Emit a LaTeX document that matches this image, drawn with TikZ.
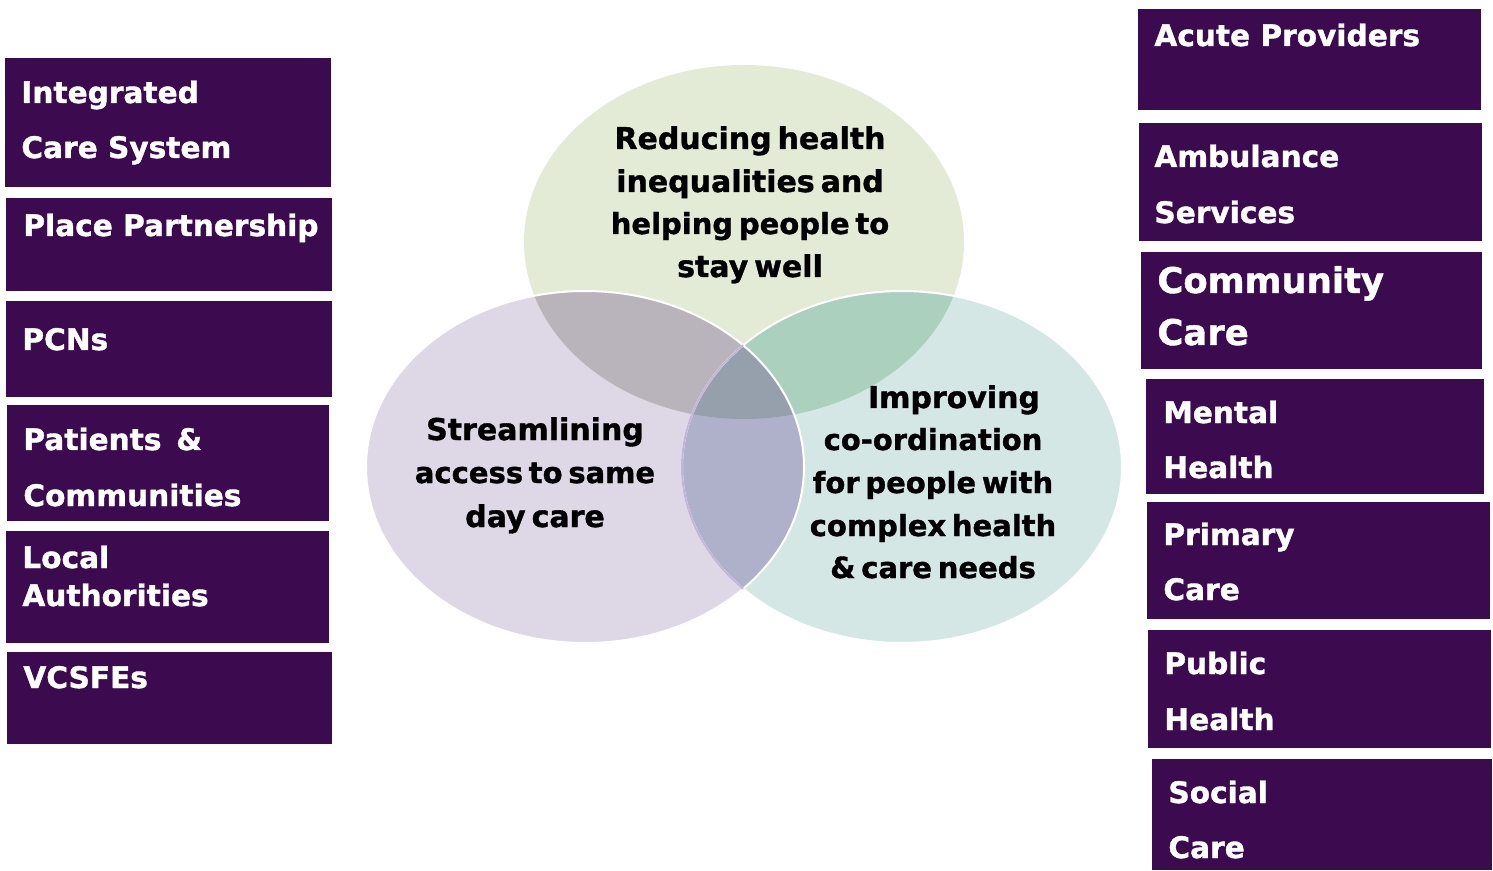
\documentclass[tikz,border=0pt]{standalone}
\usepackage{fontspec}
\setmainfont{DejaVu Sans}
\newfontfamily\heavyfont{DejaVu Sans}[BoldFeatures={FakeBold=1.2}]
\newcommand\mytight{\spaceskip 0.2em\relax}
\newcommand\circfont{\heavyfont\bfseries\fontsize{15}{16}\selectfont\mytight}
\newcommand\circfontn{\heavyfont\bfseries\fontsize{14.5}{16}\selectfont\mytight}
\definecolor{boxpurple}{HTML}{3B0A4F}
\definecolor{topc}{HTML}{E3EAD5}
\definecolor{leftc}{HTML}{DDD7E6}
\definecolor{rightc}{HTML}{D5E7E4}
\definecolor{tlc}{HTML}{B9B4BB}
\definecolor{trc}{HTML}{ACD0BE}
\definecolor{lrc}{HTML}{AFB0C9}
\definecolor{centc}{HTML}{96A0AD}
\definecolor{lavline}{HTML}{C4B6D8}
\tikzset{
  box/.style={fill=boxpurple, draw=none, rectangle, anchor=north west, inner sep=0pt, outer sep=0pt},
  lbl/.style={text=white, anchor=base west, inner sep=0pt, font=\heavyfont\bfseries\fontsize{14.8}{16}\selectfont},
  biglbl/.style={lbl, font=\heavyfont\bfseries\fontsize{17.7}{20}\selectfont},
  ctext/.style={text=black, anchor=base, inner sep=0pt, font=\circfont},
  ctextn/.style={ctext, font=\circfontn},
}
\begin{document}
\begin{tikzpicture}[x=0.5pt,y=-0.5pt]
\useasboundingbox (0,0) rectangle (1493,871);
% Venn circles
\def\ellT{(744,242) ellipse [x radius=110pt, y radius=88.5pt]}
\def\ellL{(585,467) ellipse [x radius=109.5pt, y radius=88pt]}
\def\ellR{(902,467) ellipse [x radius=110pt, y radius=88pt]}
\fill[topc] \ellT;
\fill[leftc] \ellL;
\fill[rightc] \ellR;
\begin{scope}\clip \ellT; \fill[tlc] \ellL; \fill[trc] \ellR; \end{scope}
\begin{scope}\clip \ellL; \fill[lrc] \ellR; \end{scope}
\begin{scope}\clip \ellT; \clip \ellL; \fill[centc] \ellR; \end{scope}
\draw[white, line width=1pt] \ellL;
\draw[white, line width=1pt] \ellR;
\begin{scope}\clip \ellL; \draw[lavline, line width=1pt] \ellR; \end{scope}
% circle texts
\node[ctext] (t1) at (750,149) {Reducing health};
\node[ctext] (t2) at (750,192) {inequalities and};
\node[ctextn] (t3) at (750,234) {helping people to};
\node[ctext] (t4) at (750,277) {stay well};
\node[ctext] (s1) at (535,440) {Streamlining};
\node[ctextn] (s2) at (535,483) {access to same};
\node[ctext] (s3) at (535,527) {day care};
\node[ctext] (r1) at (954,408) {Improving};
\node[ctextn] (r2) at (933,450) {co-ordination};
\node[ctextn] (r3) at (933,493) {for people with};
\node[ctextn] (r4) at (933,536) {complex health};
\node[ctextn] (r5) at (933,578) {\& care needs};
% left boxes
\node[box, minimum width=163pt, minimum height=64.5pt] (ics) at (5,58) {};
\node[box, minimum width=163pt, minimum height=46.5pt] (pp) at (6,198) {};
\node[box, minimum width=163pt, minimum height=48pt] (pcn) at (6,301) {};
\node[box, minimum width=161pt, minimum height=58pt] (pat) at (7,405) {};
\node[box, minimum width=161.5pt, minimum height=56pt] (la) at (6,531) {};
\node[box, minimum width=162.5pt, minimum height=46pt] (vcs) at (7,652) {};
\node[lbl] (ics1) at (21,103) {Integrated};
\node[lbl] (ics2) at (21,158) {Care System};
\node[lbl] (pp1) at (23,236) {Place Partnership};
\node[lbl] (pcn1) at (22,350) {PCNs};
\node[lbl] (pat1) at (23,450) {Patients\hspace{0.5em}\&};
\node[lbl] (pat2) at (23,506) {Communities};
\node[lbl] (la1) at (22,568) {Local};
\node[lbl] (la2) at (22,606) {Authorities};
\node[lbl] (vcs1) at (23,688) {VCSFEs};
% right boxes
\node[box, minimum width=171.5pt, minimum height=50.5pt] (acu) at (1138,9) {};
\node[box, minimum width=171.5pt, minimum height=59pt] (amb) at (1139,123) {};
\node[box, minimum width=170.5pt, minimum height=58.5pt] (com) at (1141,252) {};
\node[box, minimum width=169pt, minimum height=57.5pt] (men) at (1146,379) {};
\node[box, minimum width=171.5pt, minimum height=58.5pt] (pri) at (1147,502) {};
\node[box, minimum width=171.5pt, minimum height=59pt] (pub) at (1148,630) {};
\node[box, minimum width=170pt, minimum height=55.5pt] (soc) at (1152,759) {};
\node[lbl] (acu1) at (1154,46) {Acute Providers};
\node[lbl] (amb1) at (1154,167) {Ambulance};
\node[lbl] (amb2) at (1154,223) {Services};
\node[biglbl] (com1) at (1157,293) {Community};
\node[biglbl] (com2) at (1157,345) {Care};
\node[lbl] (men1) at (1163,423) {Mental};
\node[lbl] (men2) at (1163,478) {Health};
\node[lbl] (pri1) at (1163,545) {Primary};
\node[lbl] (pri2) at (1163,600) {Care};
\node[lbl] (pub1) at (1164,674) {Public};
\node[lbl] (pub2) at (1164,730) {Health};
\node[lbl] (soc1) at (1168,803) {Social};
\node[lbl] (soc2) at (1168,858) {Care};
\end{tikzpicture}
\end{document}
